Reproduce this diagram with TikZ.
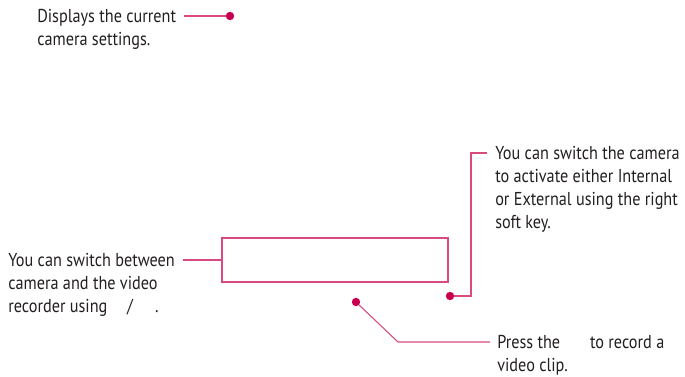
\documentclass[tikz,border=0pt]{standalone}
\usepackage{fontspec}
\setmainfont{PT Sans}[FakeStretch=0.87]
\usetikzlibrary{positioning}
\definecolor{lgpink}{HTML}{C8004F}
\definecolor{lgline}{HTML}{D94A80}
\definecolor{notetext}{HTML}{231F20}

\begin{document}
\begin{tikzpicture}[x=0.75pt, y=-0.75pt,
    every node/.style={font=\fontsize{14}{17.25}\selectfont},
    note/.style={align=left, inner sep=0pt, anchor=north west, text=notetext},
    dot/.style={circle, fill=lgpink, inner sep=0pt, minimum size=6.3pt},
    leader/.style={draw=lgline, line width=0.8pt},
    screenbox/.style={rectangle, draw=lgline, line width=0.8pt,
        minimum width=169.5pt, minimum height=33pt},
]
\useasboundingbox (0,0) rectangle (685,376);

% Screen area
\node[screenbox] (screen) at (335,260) {};

% Camera settings
\node[note] (settings) at (37,9) {Displays the current\\camera settings.};
\node[dot] (settingsdot) at (230,16) {};
\coordinate (settingsend) at (184,16);
\draw[leader] (settingsend) -- (settingsdot);

% Camera / video switch
\node[note] (switch) at (8,253) {You can switch between\\camera and the video\\recorder using\hspace{1.05em}/\hspace{1.2em}.};
\coordinate (switchend) at (183,260);
\draw[leader] (switchend) -- (screen.west);

% Internal / External camera
\node[note] (camera) at (495,146) {You can switch the camera\\to activate either Internal\\or External using the right\\soft key.};
\node[dot] (cameradot) at (450,296) {};
\coordinate (cameraend) at (487,153);
\draw[leader] (cameradot) -- (471,296) |- (cameraend);

% Record
\node[note] (record) at (497,335) {Press the\hspace{1.6em}to record a\\video clip.};
\node[dot] (recorddot) at (356,302) {};
\coordinate (recordend) at (490,342);
\draw[leader] (recorddot) -- (398,342) -- (recordend);
\end{tikzpicture}
\end{document}
